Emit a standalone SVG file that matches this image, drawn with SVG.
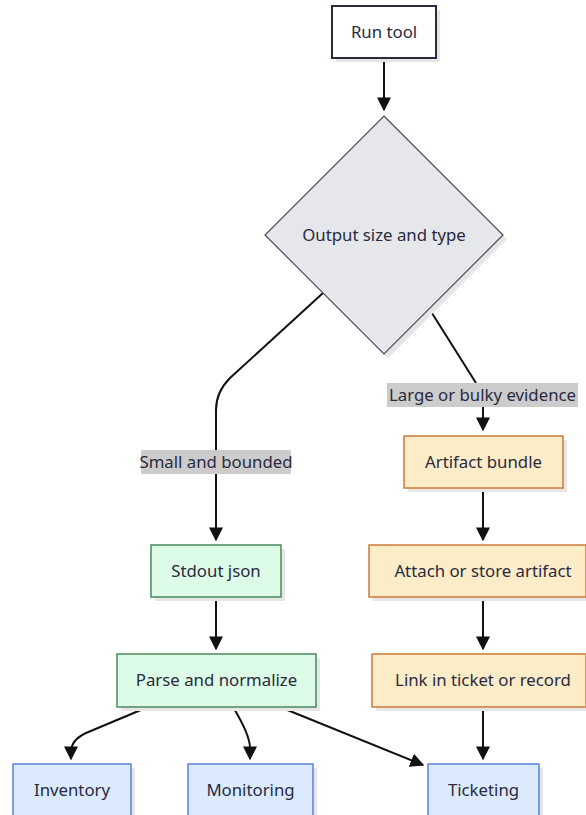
<svg xmlns="http://www.w3.org/2000/svg" width="586" height="815" viewBox="0 0 586 815">
  <style>
    text { font-family: "Noto Sans", "DejaVu Sans", sans-serif; font-size: 16.8px; fill: #2a2a40; text-anchor: middle; dominant-baseline: central; }
    .shadow { fill: #e6e6e6; }
    .start { fill: #ffffff; stroke: #2a2a40; stroke-width: 2; }
    .decision { fill: #e5e7eb; stroke: #4a4a5a; stroke-width: 1.2; }
    .ok { fill: #dcfce7; stroke: #4a8a5c; stroke-width: 1.5; }
    .bulk { fill: #fdecc8; stroke: #cc7a3a; stroke-width: 1.5; }
    .sink { fill: #dbeafe; stroke: #5b82dd; stroke-width: 1.5; }
    .edge { fill: none; stroke: #111111; stroke-width: 2; }
    .lbl { fill: #cccccc; }
  </style>
  <defs>
    <marker id="arrowL" viewBox="0 0 10 10" refX="9" refY="5" markerWidth="14" markerHeight="14" markerUnits="userSpaceOnUse" orient="auto">
      <path d="M0,0 L10,5 L0,10 z" fill="#111111"/>
    </marker>
  </defs>

  <g id="connectors">
    <path class="edge" d="M384,58 L384,110" marker-end="url(#arrowL)"/>
    <path class="edge" d="M323,293 L230,378 Q216,392 216,410 L216,540" marker-end="url(#arrowL)"/>
    <path class="edge" d="M430,310 L476,383"/>
    <path class="edge" d="M483,407 L483,430" marker-end="url(#arrowL)"/>
    <path class="edge" d="M483,488 L483,540" marker-end="url(#arrowL)"/>
    <path class="edge" d="M216,597 L216,649" marker-end="url(#arrowL)"/>
    <path class="edge" d="M483,597 L483,649" marker-end="url(#arrowL)"/>
    <path class="edge" d="M148,707 L86,733 Q71,740 71,752 L71,759" marker-end="url(#arrowL)"/>
    <path class="edge" d="M233,707 Q250,735 250,748 L250,759" marker-end="url(#arrowL)"/>
    <path class="edge" d="M280,707 L423,765" marker-end="url(#arrowL)"/>
    <path class="edge" d="M483,707 L483,759" marker-end="url(#arrowL)"/>
    <rect class="lbl" x="387" y="383" width="191" height="24"/>
    <text x="482.5" y="394">Large or bulky evidence</text>
    <rect class="lbl" x="141" y="450" width="150" height="24"/>
    <text x="216" y="461">Small and bounded</text>
  </g>

  <g id="run-tool">
    <rect class="shadow" x="336" y="10" width="104" height="52"/>
    <rect class="start" x="332" y="6" width="104" height="52"/>
    <text x="384" y="31">Run tool</text>
  </g>

  <g id="output-size">
    <polygon class="shadow" points="388,120 507,239 388,358 269,239"/>
    <polygon class="decision" points="384,116 503,235 384,354 265,235"/>
    <text x="384" y="234">Output size and type</text>
  </g>

  <g id="artifact-bundle">
    <rect class="shadow" x="408" y="440" width="159" height="52"/>
    <rect class="bulk" x="404" y="436" width="159" height="52"/>
    <text x="483.5" y="461">Artifact bundle</text>
  </g>

  <g id="stdout-json">
    <rect class="shadow" x="155" y="549" width="130" height="52"/>
    <rect class="ok" x="151" y="545" width="130" height="52"/>
    <text x="216" y="570">Stdout json</text>
  </g>

  <g id="attach-artifact">
    <rect class="shadow" x="373" y="549" width="217" height="52"/>
    <rect class="bulk" x="369" y="545" width="217" height="52"/>
    <text x="483" y="570">Attach or store artifact</text>
  </g>

  <g id="parse-normalize">
    <rect class="shadow" x="121" y="658" width="199" height="53"/>
    <rect class="ok" x="117" y="654" width="199" height="53"/>
    <text x="216.5" y="679">Parse and normalize</text>
  </g>

  <g id="link-ticket">
    <rect class="shadow" x="376" y="658" width="214" height="53"/>
    <rect class="bulk" x="372" y="654" width="214" height="53"/>
    <text x="483" y="679">Link in ticket or record</text>
  </g>

  <g id="inventory">
    <rect class="shadow" x="17" y="768" width="118" height="52"/>
    <rect class="sink" x="13" y="764" width="118" height="60"/>
    <text x="72" y="789">Inventory</text>
  </g>

  <g id="monitoring">
    <rect class="shadow" x="192" y="768" width="125" height="52"/>
    <rect class="sink" x="188" y="764" width="125" height="60"/>
    <text x="250.5" y="789">Monitoring</text>
  </g>

  <g id="ticketing">
    <rect class="shadow" x="432" y="768" width="111" height="52"/>
    <rect class="sink" x="428" y="764" width="111" height="60"/>
    <text x="483.5" y="789">Ticketing</text>
  </g>
</svg>
